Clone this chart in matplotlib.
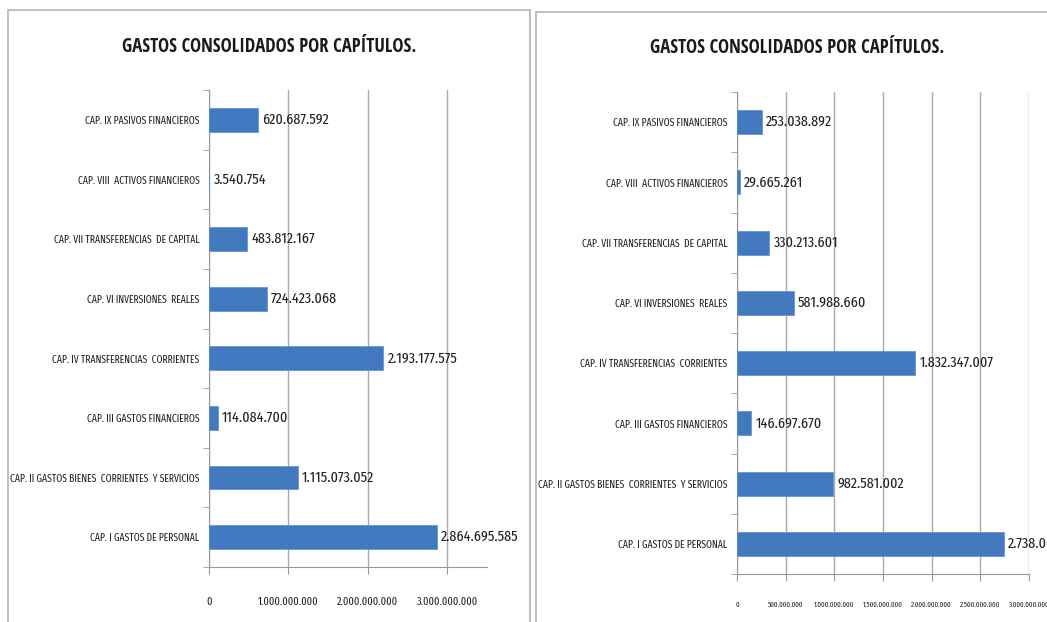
import numpy as np
import matplotlib.pyplot as plt
from matplotlib.patches import Rectangle
from matplotlib.ticker import FuncFormatter, MultipleLocator

plt.rcParams['font.family'] = ['Fira Sans Extra Condensed', 'Roboto Condensed', 'DejaVu Sans']

# Datos
capitulos = [
    'CAP. I GASTOS DE PERSONAL',
    'CAP. II GASTOS BIENES  CORRIENTES  Y SERVICIOS',
    'CAP. III GASTOS FINANCIEROS',
    'CAP. IV TRANSFERENCIAS  CORRIENTES',
    'CAP. VI INVERSIONES  REALES',
    'CAP. VII TRANSFERENCIAS  DE CAPITAL',
    'CAP. VIII  ACTIVOS FINANCIEROS',
    'CAP. IX PASIVOS FINANCIEROS',
]
gastos_izq = [2864695585, 1115073052, 114084700, 2193177575,
              724423068, 483812167, 3540754, 620687592]
gastos_der = [2738063800, 982581002, 146697670, 1832347007,
              581988660, 330213601, 29665261, 253038892]
titulo = 'GASTOS CONSOLIDADOS POR CAPÍTULOS.'

W, H = 1047, 622
fig = plt.figure(figsize=(W / 100, H / 100), dpi=100)

def px(x0, y0, x1, y1):
    return [x0 / W, 1 - y1 / H, (x1 - x0) / W, (y1 - y0) / H]

# marcos de los paneles
for x0, y0, x1 in [(8, 10, 530), (536, 12, 1060)]:
    fig.patches.append(Rectangle((x0 / W, -0.01), (x1 - x0) / W, 1 - y0 / H + 0.01,
                                 transform=fig.transFigure, fill=False,
                                 edgecolor='#b4b4b4', lw=1.2))

def miles(v, pos=None):
    return f'{v:,.0f}'.replace(',', '.')

def panel(rect, valores, xmax, paso, fs_tick, pad_tick, tcx, tcy):
    ax = fig.add_axes(px(*rect))
    y = np.arange(len(valores))
    ax.barh(y, valores, height=0.4, color='#4279be', edgecolor='#5a8fd0', lw=0.5, zorder=3)
    ax.set_xlim(0, xmax)
    ax.set_ylim(-0.5, len(valores) - 0.5)
    ax.xaxis.set_major_locator(MultipleLocator(paso))
    ax.xaxis.set_major_formatter(FuncFormatter(miles))
    ax.grid(axis='x', color='#aaaaaa', lw=1, zorder=0)
    ax.set_yticks(y)
    ax.set_yticklabels(capitulos, fontsize=7.5, color='#222222')
    ax.set_yticks(np.arange(-0.5, len(valores)), minor=True)
    ax.tick_params(axis='y', which='major', length=0, pad=7)
    ax.tick_params(axis='y', which='minor', length=4, color='#999999')
    ax.tick_params(axis='x', length=5, color='#999999', labelsize=fs_tick,
                   pad=pad_tick, labelcolor='#222222')
    for s in ['top', 'right']:
        ax.spines[s].set_visible(False)
    for s in ['left', 'bottom']:
        ax.spines[s].set_color('#999999')
    for yi, v in zip(y, valores):
        ax.text(v + xmax * 0.015, yi, miles(v), va='center', ha='left',
                fontsize=11, color='#222222', zorder=4)
    fig.text(tcx / W, 1 - tcy / H, titulo, ha='center', va='center',
             family=['Open Sans Condensed', 'Fira Sans Extra Condensed', 'DejaVu Sans'],
             fontsize=13.5, fontweight='bold', color='#1a1a1a')
    return ax

panel((209, 90, 487, 567), gastos_izq, 3.5e9, 1e9, 8, 16, 269, 47)
panel((737, 92, 1029, 574), gastos_der, 3.0e9, 5e8, 5.5, 15, 797, 48)

fig.savefig('out.png', dpi=100)
